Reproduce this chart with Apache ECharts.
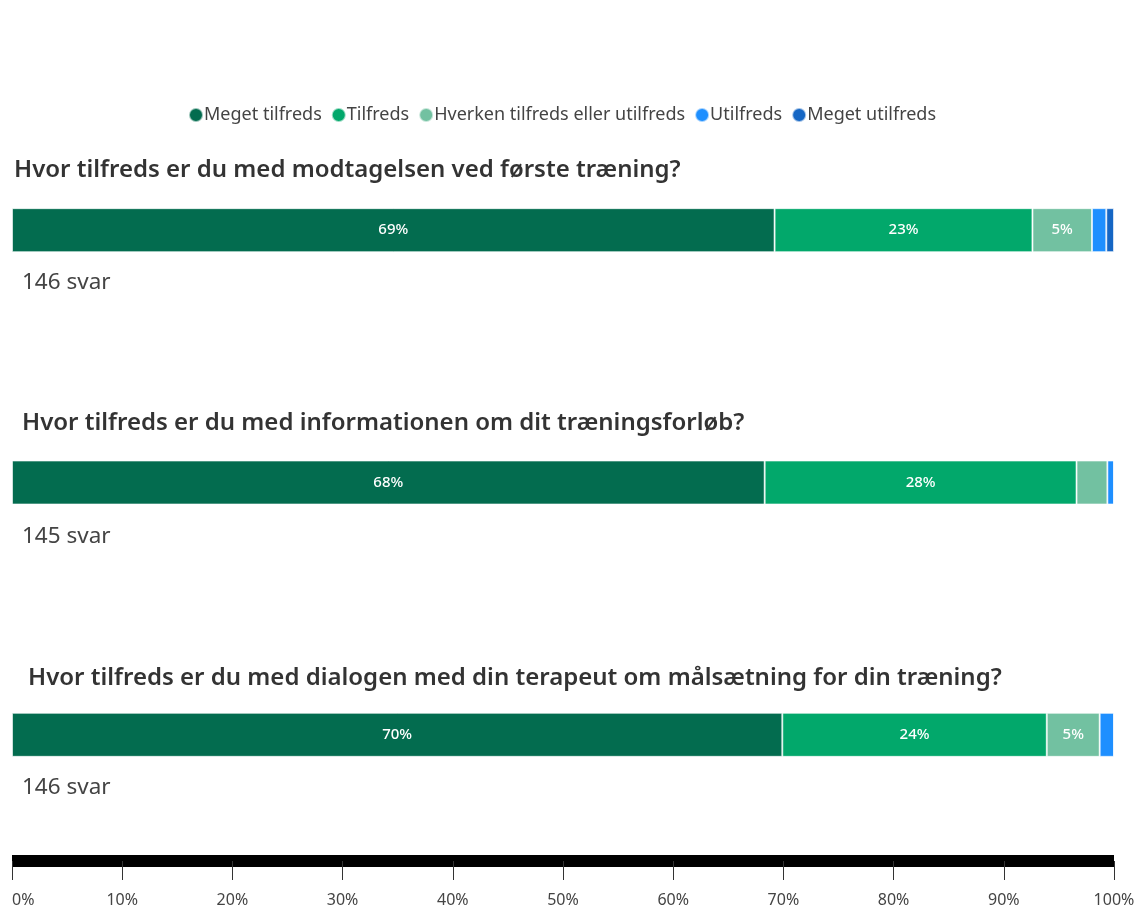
<!DOCTYPE html>
<html>
<head>
<meta charset="utf-8">
<script src="https://cdn.jsdelivr.net/npm/echarts@6/dist/echarts.min.js"></script>
<style>
	html, body { margin: 0; padding: 0; background: #fff; }
	#chart { width: 1140px; height: 911px; }
</style>
</head>
<body>
<div id="chart"></div>
<script>
var questions = [
	'Hvor tilfreds er du med modtagelsen ved første træning?',
	'Hvor tilfreds er du med informationen om dit træningsforløb?',
	'Hvor tilfreds er du med dialogen med din terapeut om målsætning for din træning?'
];
var answerCounts = [146, 145, 146];
var levels = ['Meget tilfreds', 'Tilfreds', 'Hverken tilfreds eller utilfreds', 'Utilfreds', 'Meget utilfreds'];
var levelColors = ['#036c4f', '#02a86b', '#72c1a1', '#1e8fff', '#1566c4'];

// percent of answers per level, one value per question
var megetTilfreds = [69.2, 68.3, 69.9];
var tilfreds = [23.4, 28.3, 24.0];
var hverken = [5.4, 2.8, 4.8];
var utilfreds = [1.3, 0.6, 1.3];
var megetUtilfreds = [0.7, 0, 0];
var levelData = [megetTilfreds, tilfreds, hverken, utilfreds, megetUtilfreds];

var tickValues = [0, 10, 20, 30, 40, 50, 60, 70, 80, 90, 100];

var titleTops = [158, 411, 666];
var titleLefts = [14, 22, 28];
var svarTops = [271, 525, 776];

var titles = [];
for (var i = 0; i < questions.length; i++) {
	titles.push({
		text: questions[i],
		left: titleLefts[i],
		top: titleTops[i],
		padding: 0,
		textStyle: { fontFamily: 'Noto Sans', fontSize: 24, fontWeight: 600, color: '#333' }
	});
	titles.push({
		text: answerCounts[i] + ' svar',
		left: 22,
		top: svarTops[i],
		padding: 0,
		textStyle: { fontFamily: 'Noto Sans', fontSize: 22.5, fontWeight: 'normal', color: '#444' }
	});
}

var series = [];
for (var j = 0; j < levels.length; j++) {
	series.push({
		name: levels[j],
		type: 'bar',
		stack: 'svar',
		barWidth: 44,
		data: levelData[j],
		itemStyle: {
			color: levelColors[j],
			borderColor: 'rgba(255,255,255,0.6)',
			borderWidth: 1
		},
		label: {
			show: true,
			color: '#fff',
			fontFamily: 'Noto Sans',
			fontSize: 15,
			fontWeight: 500,
			formatter: function(p) {
				return p.value >= 4 ? Math.round(p.value) + '%' : '';
			}
		}
	});
}

var myChart = echarts.init(document.getElementById('chart'));
var option = {
	animation: false,
	title: titles,
	legend: {
		top: 106,
		left: 188,
		padding: 0,
		icon: 'circle',
		itemWidth: 14,
		itemHeight: 14,
		itemGap: 9,
		textStyle: { fontFamily: 'Noto Sans', fontSize: 18, color: '#444', padding: [0, 0, 0, -4] },
		data: levels
	},
	grid: {
		left: 12,
		right: 26,
		top: 104,
		bottom: 50
	},
	xAxis: {
		type: 'value',
		min: 0,
		max: 100,
		interval: 10,
		axisLine: { show: true, lineStyle: { color: '#000', width: 12, cap: 'butt' } },
		axisTick: { show: true, length: 19, lineStyle: { color: '#333', width: 1 } },
		splitLine: { show: false },
		axisLabel: {
			margin: 31,
			fontFamily: 'Noto Sans',
			fontSize: 16,
			color: '#444',
			alignMinLabel: 'left',
			formatter: function(v) {
				return tickValues.indexOf(v) >= 0 ? v + '%' : '';
			}
		}
	},
	yAxis: {
		type: 'category',
		inverse: true,
		data: questions,
		show: false
	},
	series: series
};
myChart.setOption(option);
</script>
</body>
</html>
